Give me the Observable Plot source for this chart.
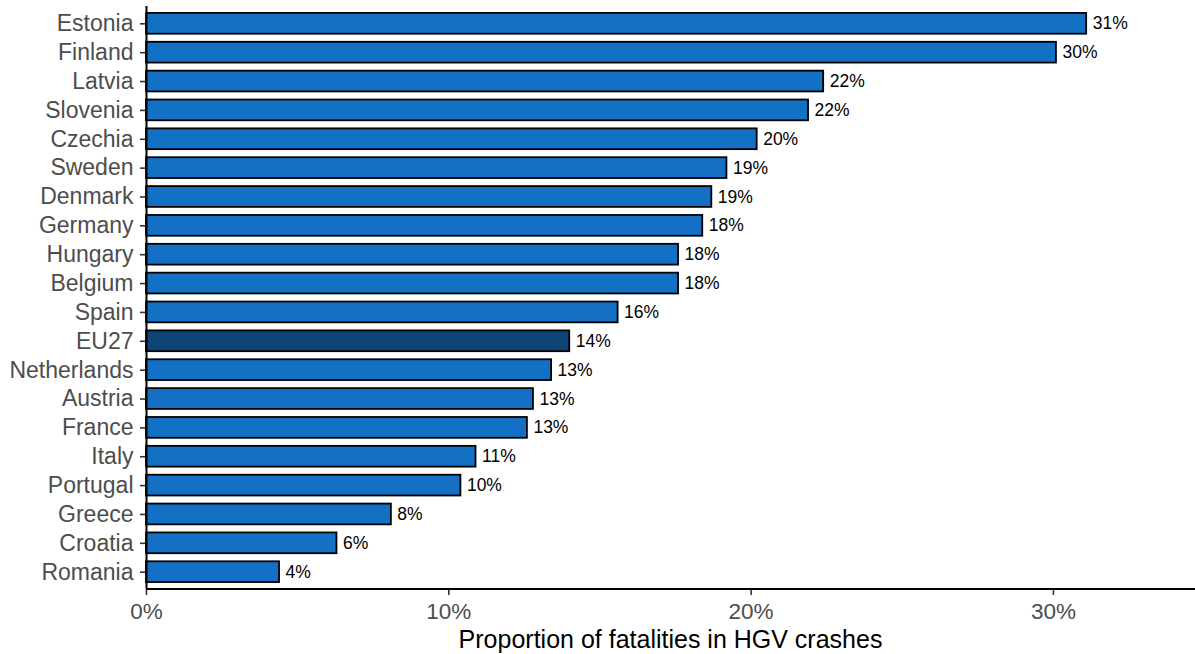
<!DOCTYPE html>
<html><head><meta charset="utf-8">
<script src="https://cdn.jsdelivr.net/npm/d3@7"></script>
<script src="https://cdn.jsdelivr.net/npm/@observablehq/plot@0.6"></script>
<style>
body{margin:0;background:#fff;}
svg{font-family:"Liberation Sans",Arial,sans-serif;}
</style></head>
<body><div id="chart"></div>
<script>
const countries = ["Estonia","Finland","Latvia","Slovenia","Czechia","Sweden","Denmark","Germany","Hungary","Belgium","Spain","EU27","Netherlands","Austria","France","Italy","Portugal","Greece","Croatia","Romania"];
const shares = [31.1,30.1,22.4,21.9,20.2,19.2,18.7,18.4,17.6,17.6,15.6,14.0,13.4,12.8,12.6,10.9,10.4,8.1,6.3,4.4];
const xTicks = [0,10,20,30];

const data = countries.map((c,i)=>({country:c, value:shares[i], eu:c==="EU27"}));

const chart = Plot.plot({
  width:1195, height:654,
  marginLeft:146, marginRight:0, marginTop:6, marginBottom:65,
  style:{fontFamily:"Liberation Sans, Arial, sans-serif", background:"#fff"},
  x:{domain:[0,34.7], ticks:xTicks, tickFormat:d=>d+"%", label:null},
  y:{domain:countries, paddingInner:0.28, paddingOuter:0.24, round:false, label:null},
  marks:[
    Plot.barX(data,{y:"country", x:"value", fill:d=>d.eu?"#0F4477":"#1370C4", stroke:"#000", strokeWidth:1.8}),
    Plot.text(data,{y:"country", x:"value", text:d=>Math.round(d.value)+"%", textAnchor:"start", dx:6, fontSize:17.5, fill:"#000"}),
    Plot.axisY({tickSize:6, tickPadding:7, fontSize:23, color:"#4D4D4D", stroke:"#333", strokeWidth:1.6, label:null}),
    Plot.axisX({ticks:xTicks, tickFormat:d=>d+"%", tickSize:6, tickPadding:8, fontSize:22.5, color:"#4D4D4D", stroke:"#333", strokeWidth:1.6, label:null}),
    Plot.ruleX([0],{stroke:"#000", strokeWidth:2})
  ]
});
document.getElementById("chart").appendChild(chart);

const svg = d3.select(chart);
const xs = chart.scale("x");
svg.append("line").attr("x1",xs.apply(0)).attr("x2",1195).attr("y1",589).attr("y2",589).attr("stroke","#000").attr("stroke-width",2);
svg.append("text").attr("x",(146+1195)/2).attr("y",648).attr("text-anchor","middle")
  .attr("font-size",25).attr("fill","#000").attr("font-family","Liberation Sans, Arial, sans-serif")
  .text("Proportion of fatalities in HGV crashes");
</script></body></html>
